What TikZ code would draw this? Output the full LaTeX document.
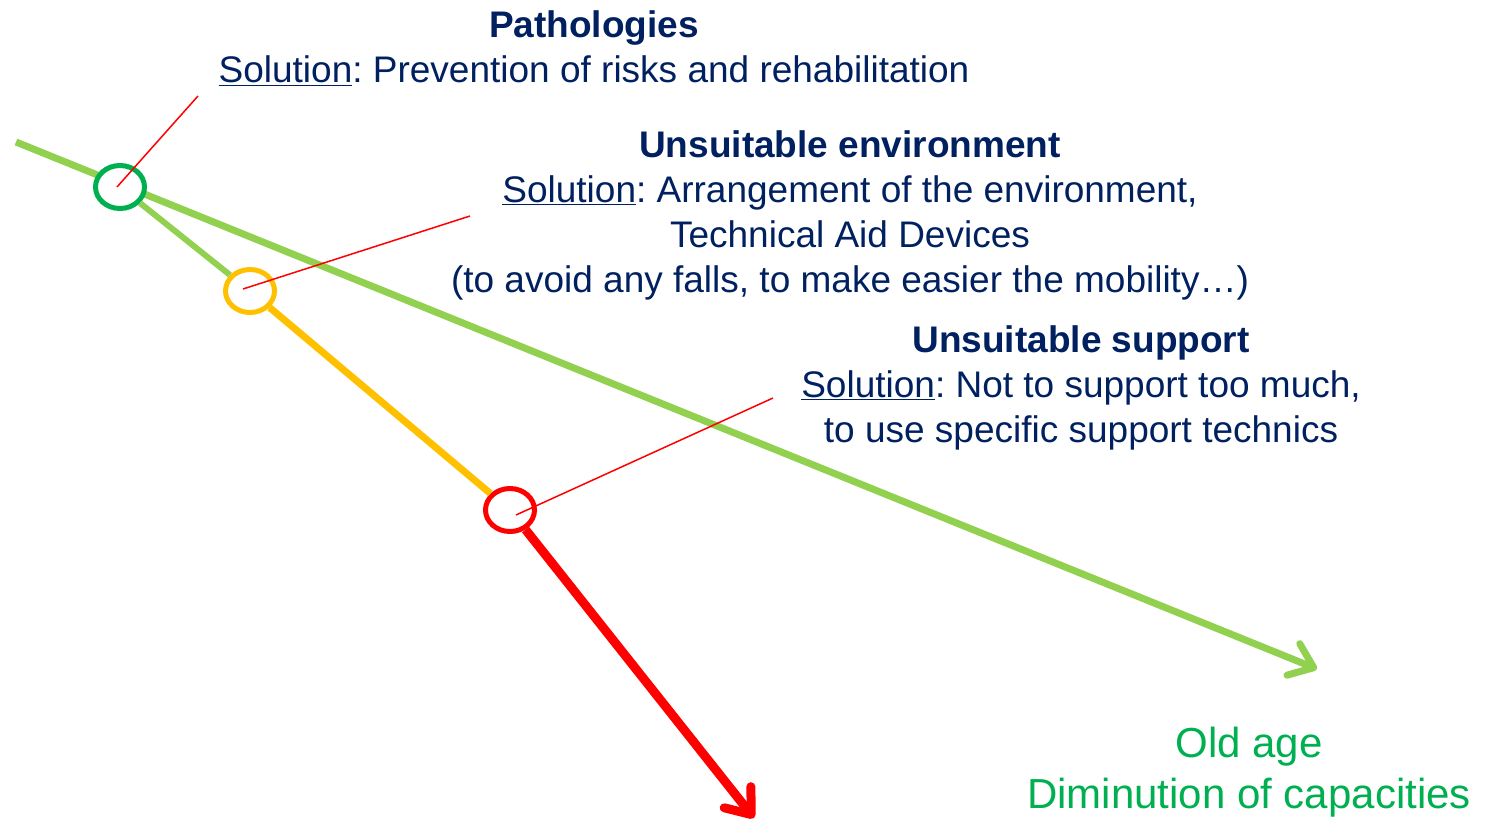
\documentclass[tikz,border=0pt]{standalone}
\usepackage{fontspec}
\setmainfont{Liberation Sans}
\usepackage{tikz}
\usetikzlibrary{arrows.meta,positioning,shapes.geometric}
\definecolor{navy}{HTML}{002060}
\definecolor{leafGreen}{HTML}{92D050}
\definecolor{darkGreen}{HTML}{00B050}
\definecolor{amber}{HTML}{FFC000}
\frenchspacing

\begin{document}
\begin{tikzpicture}
[ x=1pt, y=-1pt,
		stage/.style={ellipse,draw,fill=white,line width=5pt,minimum width=49pt,minimum height=43pt,inner sep=0pt},
		textBlock/.style={text=navy,align=center,anchor=base,inner sep=0pt,font=\fontsize{37}{45}\selectfont},
		agePath/.style={leafGreen,line width=7pt,-{Straight Barb[length=22pt,width=34pt,round]}},
		lossPath/.style={red,line width=9pt,-{Straight Barb[length=22pt,width=34pt,round]}},
		pointer/.style={red,line width=1.5pt}]
	\useasboundingbox (0,0) rectangle (1490,821);

	\coordinate (age start) at (16,142);
	\coordinate (age end) at (1317,669);
	\draw[agePath] (age start) -- (age end);

	\node[stage,draw=darkGreen] (green stage) at (120,187) {};
	\node[stage,draw=amber] (yellow stage) at (250,291) {};
	\node[stage,draw=red] (red stage) at (510,510) {};
	\coordinate (fall end) at (754,818);

	\draw[leafGreen,line width=6pt] (green stage) -- (yellow stage);
	\draw[amber,line width=7pt] (yellow stage) -- (red stage);
	\draw[lossPath] (red stage) -- (fall end);

	% anchor=base is the last line's baseline
	\node[textBlock] (pathologies) at (594,83) {\textbf{Pathologies}\\\underline{Solution}: Prevention of risks and rehabilitation};
	\node[textBlock] (environment) at (850,292) {\textbf{Unsuitable environment}\\\underline{Solution}: Arrangement of the environment,\\Technical Aid Devices\\(to avoid any falls, to make easier the mobility…)};
	\node[textBlock] (support) at (1081,442) {\textbf{Unsuitable support}\\\underline{Solution}: Not to support too much,\\to use specific support technics};
	\node[textBlock,text=darkGreen,font=\fontsize{42}{51}\selectfont] (old age) at (1249,808) {Old age\\Diminution of capacities};

	\coordinate (pathologies pin) at (198,96);
	\coordinate (environment pin) at (470,216);
	\coordinate (support pin) at (773,398);
	\draw[pointer] ([xshift=-3pt]green stage.center) -- (pathologies pin);
	\draw[pointer] ([xshift=-7pt,yshift=2pt]yellow stage.center) -- (environment pin);
	\draw[pointer] ([xshift=6pt,yshift=-5pt]red stage.center) -- (support pin);
\end{tikzpicture}
\end{document}
